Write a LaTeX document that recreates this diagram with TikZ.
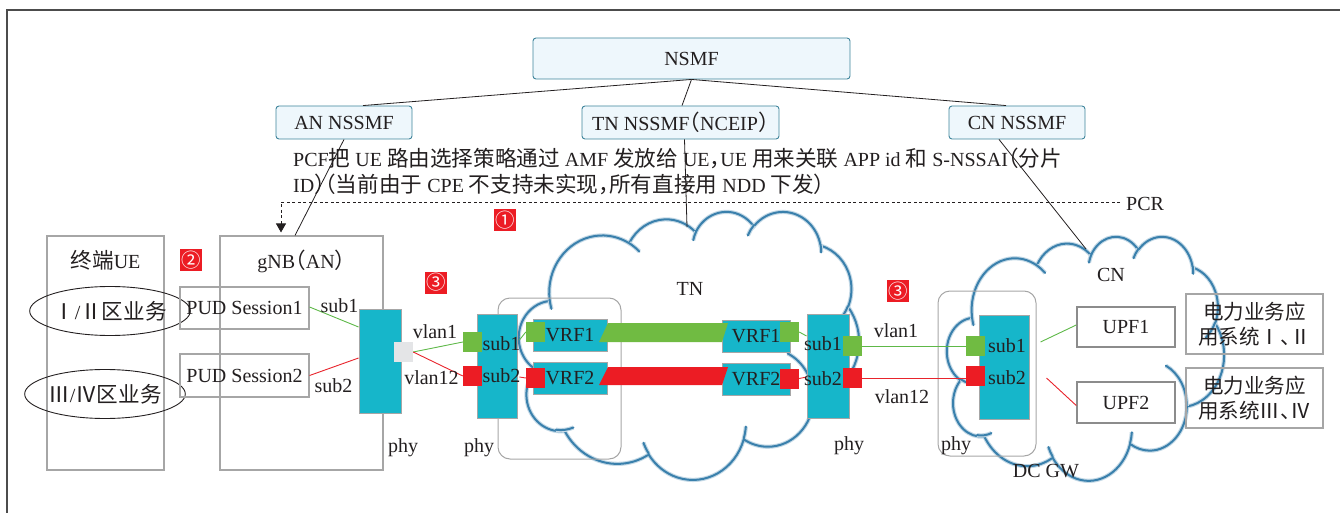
\documentclass[tikz,border=0pt]{standalone}
\usepackage{fontspec}
\setmainfont{Liberation Serif}
\newfontfamily\cjk{Noto Sans CJK SC}[Scale=1.08, RawFeature={+halt}]
\usetikzlibrary{calc,arrows.meta,shapes.geometric}

\definecolor{tealblk}{RGB}{22,182,202}
\definecolor{gsq}{RGB}{112,187,66}
\definecolor{rsq}{RGB}{236,28,36}
\definecolor{glin}{RGB}{94,184,72}
\definecolor{rlin}{RGB}{232,36,44}
\definecolor{boxgray}{RGB}{166,166,166}
\definecolor{upfgray}{RGB}{140,140,140}
\definecolor{topfill}{RGB}{238,247,252}
\definecolor{topdraw}{RGB}{62,132,155}
\definecolor{cloudblue}{RGB}{58,128,172}
\definecolor{portgray}{RGB}{228,229,231}
\definecolor{ink}{RGB}{35,31,32}

% automatic switch to the CJK family for ideographs and full-width signs
\makeatletter
\newXeTeXintercharclass\zhclass
\def\zhrange#1#2{\count@=#1\relax
  \loop\XeTeXcharclass\count@=\zhclass\relax
  \ifnum\count@<#2\relax\advance\count@\@ne\repeat}
\zhrange{"2160}{"2188}
\zhrange{"2460}{"24FF}
\zhrange{"3000}{"303F}
\zhrange{"4E00}{"9FFF}
\zhrange{"FF00}{"FFEF}
\makeatother
\XeTeXinterchartoks 0 \zhclass = {\cjk}
\XeTeXinterchartoks 4095 \zhclass = {\cjk}
\XeTeXinterchartoks \zhclass 0 = {\rmfamily}
\XeTeXinterchartoks \zhclass 4095 = {\rmfamily}
\XeTeXinterchartokenstate=1

% cloud outline built from elliptic arcs (angles given on the ellipse)
\newcommand\cloudacc{}
\newcommand\oarc[4]{%
  \pgfmathsetmacro\oa{atan2(#1*sin(#3),#2*cos(#3))}%
  \pgfmathsetmacro\ob{atan2(#1*sin(#3+#4),#2*cos(#3+#4))}%
  \pgfmathsetmacro\od{\ob-\oa}%
  \pgfmathsetmacro\od{\od+360*(\od<0)}%
  \xdef\cloudacc{\cloudacc arc[start angle=\oa, delta angle=\od, x radius=#1, y radius=#2]}}
\newcommand\ohook[6]{%
  \pgfmathsetmacro\oa{atan2(#3*sin(#5),#4*cos(#5))}%
  \pgfmathsetmacro\ob{atan2(#3*sin(#5+#6),#4*cos(#5+#6))}%
  \pgfmathsetmacro\od{\ob-\oa}%
  \pgfmathsetmacro\od{\od+360*(\od<0)}%
  \draw[cloudline] (#1,#2) arc[start angle=\oa, delta angle=\od, x radius=#3, y radius=#4];}
\newcommand\buildcloud{%
  \gdef\cloudacc{}%
  \oarc{675.3}{919.0}{-190.48748}{123.78053}%
  \oarc{533.3}{726.7}{-144.10238}{89.94523}%
  \oarc{436.5}{594.5}{-145.80792}{99.72302}%
  \oarc{485.7}{659.5}{-130.98607}{117.24173}%
  \oarc{533.3}{727.3}{-78.70888}{109.02692}%
  \oarc{677.5}{922.0}{-46.26725}{130.269}%
  \oarc{578.5}{786.7}{0.62502}{114.03333}%
  \oarc{675.2}{921.5}{22.4516}{115.17255}%
  \oarc{772.0}{1054.3}{66.24263}{75.71102}%
  \oarc{436.0}{591.8}{-274.94208}{146.73557}%
  \oarc{434.5}{594.5}{-246.8285}{152.51885}}
\newcommand\drawcloud[4]{%
  \pgfmathsetmacro\cw{#3/4320}%
  \pgfmathsetmacro\ch{#4/4320}%
  \begin{scope}[xshift=#1pt, yshift=-#2pt, x=\cw pt, y=-\ch pt]
    \draw[cloudline] (390,1437) \cloudacc -- cycle;
    \ohook{469.3}{2617.7}{434.5}{594.5}{86.742}{26.4295}
    \ohook{692.8}{3489.9}{436.0}{591.8}{73.61047}{22.46027}
    \ohook{1647.8}{3909.0}{675.2}{921.5}{137.62415}{14.0811}
    \ohook{2882.7}{3475.1}{675.2}{921.5}{6.45327}{15.99835}
    \ohook{3412.9}{2295.4}{578.5}{786.7}{-70.29235}{70.91737}
    \ohook{4179.8}{1535.4}{533.3}{727.3}{30.31803}{27.7515}
    \ohook{3832.4}{542.6}{485.7}{659.5}{-13.74433}{14.8589}
    \ohook{2907.8}{395.2}{485.7}{659.5}{-149.18145}{18.19537}
    \ohook{2214.1}{472.0}{436.5}{594.5}{-163.49427}{17.68635}
    \ohook{1400.0}{519.2}{675.3}{919.0}{-66.70695}{12.31935}
    \ohook{412.7}{1578.9}{675.3}{919.0}{157.65435}{11.85817}
  \end{scope}}

\begin{document}
\begin{tikzpicture}[x=1pt, y=-1pt,
  every node/.style={font=\fontsize{20}{24}\selectfont, text=ink, inner sep=0pt},
  cloudline/.style={draw=cloudblue, line width=2pt, line cap=round,
    preaction={draw=cloudblue!30, line width=4.2pt}},
  topbox/.style={draw=topdraw, fill=topfill, rounded corners=3pt, line width=0.9pt},
  graybox/.style={draw=boxgray, line width=1.1pt},
  roundbox/.style={draw=boxgray, line width=1pt, rounded corners=12pt},
  phyblk/.style={draw=boxgray, fill=tealblk, line width=0.9pt, minimum height=104pt},
  vrfbox/.style={draw=boxgray, fill=tealblk, line width=0.9pt, minimum height=32pt},
  gport/.style={fill=gsq, minimum width=19pt, minimum height=20pt},
  rport/.style={fill=rsq, minimum width=19pt, minimum height=20pt},
  gline/.style={draw=glin, line width=0.9pt},
  rline/.style={draw=rlin, line width=0.9pt},
  conn/.style={draw=ink, line width=0.8pt},
  badge/.style={fill=rsq, text=white, minimum width=22pt, minimum height=22pt,
    font=\fontsize{18}{18}\selectfont},
  upfbox/.style={draw=upfgray, line width=1.5pt, minimum width=98pt, minimum height=40pt},
  appbox/.style={draw=boxgray, line width=1.1pt, minimum width=137pt, minimum height=60pt,
    align=center, font=\fontsize{19}{25}\selectfont}]
\useasboundingbox (0,0) rectangle (1340,513);

% clouds
\buildcloud
\drawcloud{519}{211}{340}{268}
\drawcloud{947}{236}{277}{244}
\coordinate (tntop) at (687,227);
\coordinate (cntop) at (1086,249);
\node (tnlbl) [anchor=base] at (690,295) {TN};
\node (cnlbl) [anchor=base] at (1111,281) {CN};

% frame
\draw[draw=black!70, line width=1.3pt] (7,513) -- (7,10) -- (1340,10);

% management boxes
\node[topbox, minimum width=317pt, minimum height=41pt] (nsmf) at (691.5,58.5) {NSMF};
\node[topbox, minimum width=136pt, minimum height=33pt] (an) at (344,122.5) {AN NSSMF};
\node[topbox, minimum width=197pt, minimum height=33pt] (tn) at (680.5,122.5) {TN NSSMF（NCEIP）};
\node[topbox, minimum width=136pt, minimum height=33pt] (cn) at (1017,122.5) {CN NSSMF};
\draw[conn] (nsmf.south) -- ([xshift=19pt]an.north);
\draw[conn] (nsmf.south) -- ([xshift=1.5pt]tn.north);
\draw[conn] (nsmf.south) -- ([xshift=-11pt]cn.north);

% note text
\node[anchor=base west] (note1) at (293,166.5) {PCF把 UE 路由选择策略通过 AMF 发放给 UE，UE 用来关联 APP id 和 S-NSSAI（分片};
\node[anchor=base west] (note2) at (293,192.5) {ID）（当前由于 CPE 不支持未实现，所有直接用 NDD 下发）};

% UE and gNB
\node[graybox, minimum width=117pt, minimum height=234pt] (ue) at (105.5,353) {};
\node[anchor=base] (uelbl) at (105.5,268) {终端UE};
\node[graybox, minimum width=163pt, minimum height=234pt] (gnb) at (301.5,353) {};
\node[anchor=base] (gnblbl) at (301.5,268) {gNB（AN）};
\node[draw=ink, line width=0.9pt, ellipse, minimum width=136pt, minimum height=49pt] (z1) at (110,311) {Ⅰ/Ⅱ区业务};
\node[draw=ink, line width=0.9pt, ellipse, minimum width=142pt, minimum height=49pt] (z2) at (105,394) {Ⅲ/Ⅳ区业务};
\node[graybox, minimum width=129pt, minimum height=42pt] (pud1) at (244.5,308) {PUD Session1};
\node[graybox, minimum width=129pt, minimum height=43pt] (pud2) at (244.5,375.5) {PUD Session2};

% connectors to gNB and clouds
\draw[conn] (an.south) -- ([xshift=-6.5pt]gnb.north);
\draw[conn] ([xshift=4pt]tn.south) -- (tntop);
\draw[conn] ([xshift=-18pt]cn.south) -- (cntop);

% policy path
\coordinate (pcrL) at (281,202);
\node[anchor=base west] (pcr) at (1126,210) {PCR};
\draw[conn, dash pattern=on 3pt off 2.5pt, -{Triangle[length=9pt,width=10pt]}]
  ([xshift=-6pt]pcr.west |- pcrL) -- (pcrL) -- ([yshift=3pt]gnb.north -| pcrL);

% round enclosures
\node[roundbox, minimum width=123pt, minimum height=161pt] (rr1) at (559.5,378.5) {};
\node[roundbox, minimum width=98pt, minimum height=165pt] (rr2) at (987,373.5) {};

% interface blocks
\node[phyblk, minimum width=42pt] (gphy) at (380,361) {};
\node[fill=portgray, minimum width=19pt, minimum height=20pt] (gpt) at (403.5,352) {};
\node[phyblk, minimum width=40pt] (tnl) at (497,366) {};
\node[phyblk, minimum width=42pt] (tnr) at (828,366) {};
\node[phyblk, minimum width=50pt] (dcb) at (1004,367) {};

% VRF boxes and tunnels
\node[vrfbox, minimum width=74pt] (vrf1l) at (570,335) {VRF1};
\node[vrfbox, minimum width=74pt] (vrf2l) at (570,378.5) {VRF2};
\node[vrfbox, minimum width=68pt] (vrf1r) at (756,336) {VRF1};
\node[vrfbox, minimum width=68pt] (vrf2r) at (756,379) {VRF2};
\fill[gsq] (608,323) -- (728,323) -- (722,342) -- (599,342) -- cycle;
\fill[rsq] (608,367) -- (728,367) -- (722,385) -- (599,385) -- cycle;

% ports
\node[gport] (g1) at (472.5,342) {};
\node[rport] (r1) at (472.5,376) {};
\node[gport] (g2) at (535.5,332) {};
\node[rport] (r2) at (535.5,378) {};
\node[gport] (g3) at (789.5,332) {};
\node[rport] (r3) at (789.5,378.5) {};
\node[gport] (g4) at (852,346) {};
\node[rport] (r4) at (852,378) {};
\node[gport] (g5) at (975.5,346) {};
\node[rport] (r5) at (975.5,376) {};

% UPF and application boxes
\node[upfbox] (upf1) at (1126,327) {UPF1};
\node[upfbox, minimum height=41pt] (upf2) at (1126,402.5) {UPF2};
\node[appbox] (app1) at (1254.5,324) {电力业务应\\用系统Ⅰ、Ⅱ};
\node[appbox] (app2) at (1254.5,398) {电力业务应\\用系统Ⅲ、Ⅳ};

% links
\draw[gline] ([yshift=1pt]pud1.east) -- ($(gphy.west)+(0,-34)$);
\draw[rline] (pud2.east) -- ($(gphy.west)+(0,-3)$);
\draw[gline] (gpt.east) -- (g1.west);
\draw[rline] (gpt.east) -- (r1.west);
\draw[gline] ($(tnl.east)+(2,-26)$) -- (g2.west);
\draw[rline] ($(tnl.east)+(2,11)$) -- (r2.west);
\draw[gline] (g3.east) -- ($(tnr.west)+(0,-30)$);
\draw[rline] (r3.east) -- ($(tnr.west)+(0,11)$);
\draw[gline] (g4.east) -- (g5.west);
\draw[rline] (r4.east) -- (r4.east -| r5.west);
\draw[gline] ($(rr2.east)+(4,-31.5)$) -- ([yshift=2pt]upf1.west);
\draw[rline] ($(rr2.east)+(10,4.5)$) -- ([yshift=-3pt]upf2.west);

% labels
\node[anchor=base] (s1a) at (339.5,312) {sub1};
\node[anchor=base] (s2a) at (333.5,392) {sub2};
\node[anchor=base] (pha) at (403,452) {phy};
\node[anchor=base] (v1a) at (435,338) {vlan1};
\node[anchor=base] (v12a) at (431.5,384) {vlan12};
\node[anchor=base] (s1b) at (501.5,350) {sub1};
\node[anchor=base] (s2b) at (501.5,382) {sub2};
\node[anchor=base] (phb) at (479,452) {phy};
\node[anchor=base] (s1c) at (823,350) {sub1};
\node[anchor=base] (s2c) at (823,385) {sub2};
\node[anchor=base] (phc) at (849,450) {phy};
\node[anchor=base] (v1b) at (896,337) {vlan1};
\node[anchor=base] (v12b) at (902,403) {vlan12};
\node[anchor=base] (s1d) at (1007,352) {sub1};
\node[anchor=base] (s2d) at (1007,384) {sub2};
\node[anchor=base] (phd) at (956,450) {phy};
\node[anchor=base] (dcgw) at (1046,477) {DC GW};

% step badges
\node[badge] (b1) at (505,220) {①};
\node[badge] (b2) at (191,260) {②};
\node[badge] (b3) at (436,282.5) {③};
\node[badge] (b4) at (898,291) {③};
\end{tikzpicture}
\end{document}
